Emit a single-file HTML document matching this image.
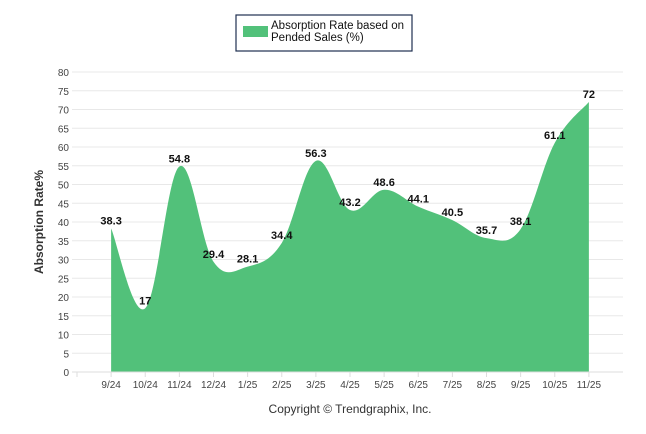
<!DOCTYPE html>
<html><head><meta charset="utf-8">
<style>
body{margin:0;background:#fff;font-family:"Liberation Sans",sans-serif;}
svg{display:block}
</style></head>
<body>
<svg id="chart" width="646" height="434">
  <g>
    <rect x="236" y="15" width="176" height="36" fill="#fff" stroke="#1f3050" stroke-width="1.2"/>
    <rect x="243" y="26" width="25" height="11" fill="#52c17a"/>
    <text x="271" y="29" font-size="11.5" fill="#111">Absorption Rate based on</text>
    <text x="271" y="41" font-size="11.5" fill="#111">Pended Sales (%)</text>
  </g>
  <g id="grid"></g>
  <g id="area"></g>
  <g id="labels"></g>
  <g id="xaxis"></g>
  <text transform="translate(43,222) rotate(-90)" text-anchor="middle" font-size="12" font-weight="bold" fill="#333">Absorption Rate%</text>
  <text x="350" y="413" text-anchor="middle" font-size="12" fill="#333">Copyright © Trendgraphix, Inc.</text>
</svg>
<script>
const categories=["9/24","10/24","11/24","12/24","1/25","2/25","3/25","4/25","5/25","6/25","7/25","8/25","9/25","10/25","11/25"];
const values=[38.3,17,54.8,29.4,28.1,34.4,56.3,43.2,48.6,44.1,40.5,35.7,38.1,61.1,72];
const yTicks=[0,5,10,15,20,25,30,35,40,45,50,55,60,65,70,75,80];
const NS="http://www.w3.org/2000/svg";
const pLeft=77,pRight=623,pTop=72,pBottom=372,yMax=80;
const step=(pRight-pLeft)/(categories.length+1);
const xs=i=>pLeft+step*(i+1);
const ys=v=>pBottom-(v/yMax)*(pBottom-pTop);
function mk(t,a,p){const e=document.createElementNS(NS,t);for(const k in a)e.setAttribute(k,a[k]);p.appendChild(e);return e;}
const grid=document.getElementById('grid');
yTicks.forEach(t=>{
  const l=mk('line',{x1:72,x2:623,y1:ys(t),y2:ys(t),stroke:'#e8e8e8','stroke-width':1},grid);
  
  
  const tx=mk('text',{x:69,y:ys(t)+4,'text-anchor':'end','font-size':10,fill:'#444'},grid);
  tx.textContent=t;
  
  
});
const pts=values.map((v,i)=>[xs(i),ys(v)]);
let d=`M${pts[0][0]},${pBottom} L${pts[0][0]},${pts[0][1]}`;
for(let i=0;i<pts.length-1;i++){
  const p0=pts[Math.max(0,i-1)],p1=pts[i],p2=pts[i+1],p3=pts[Math.min(pts.length-1,i+2)];
  const k=0.18;
  const c1=[p1[0]+(p2[0]-p0[0])*k,p1[1]+(p2[1]-p0[1])*k];
  const c2=[p2[0]-(p3[0]-p1[0])*k,p2[1]-(p3[1]-p1[1])*k];
  d+=` C${c1[0]},${c1[1]} ${c2[0]},${c2[1]} ${p2[0]},${p2[1]}`;
}
d+=` L${pts[pts.length-1][0]},${pBottom} Z`;
const area=mk('path',{d:d,fill:'#52c17a'},document.getElementById('area'));


const lab=document.getElementById('labels');
values.forEach((v,i)=>{
  const t=mk('text',{x:xs(i),y:ys(v)-4,'text-anchor':'middle','font-size':11,'font-weight':'bold',fill:'#111'},lab);
  t.textContent=v;
  
  
});
const xa=document.getElementById('xaxis');
mk('line',{x1:72,x2:623,y1:pBottom,y2:pBottom,stroke:'#ddd'},xa);
mk('line',{x1:pLeft,x2:pLeft,y1:pBottom,y2:pBottom+5,stroke:'#ddd'},xa);
categories.forEach((c,i)=>{
  mk('line',{x1:xs(i),x2:xs(i),y1:pBottom,y2:pBottom+5,stroke:'#ddd'},xa);
  const t=mk('text',{x:xs(i),y:pBottom+16,'text-anchor':'middle','font-size':10,fill:'#444'},xa);
  t.textContent=c;
  
  
});
</script>
</body></html>
